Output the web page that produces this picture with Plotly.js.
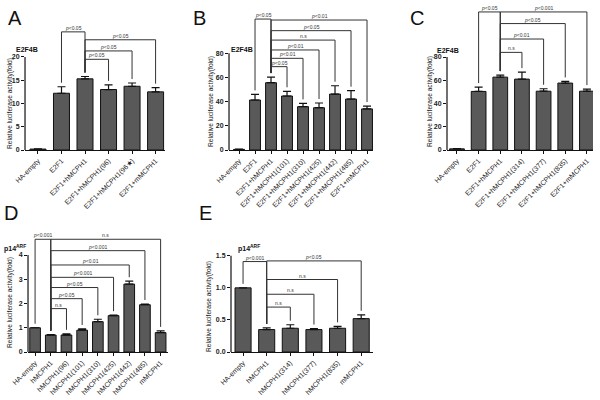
<!DOCTYPE html>
<html><head><meta charset="utf-8">
<script src="https://cdn.plot.ly/plotly-3.0.1.min.js"></script>
<style>html,body{margin:0;padding:0;background:#fff}#chart{width:600px;height:400px}</style>
</head><body><div id="chart"></div>
<script>
// ---------- Data ----------
const catsA = ['HA-empty','E2F1','E2F1+hMCPH1','E2F1+hMCPH1(96)','E2F1+hMCPH1(96★)','E2F1+mMCPH1'];
const valsA = [0.2, 12.2, 15.3, 13.0, 13.7, 12.5];
const errA  = [0.05, 1.4, 0.5, 1.0, 0.7, 0.9];
const brA = [[1,2,25.4,'p<0.05'],[2,5,23.7,'p<0.05'],[2,4,21.3,'p<0.05'],[2,3,19.5,'p<0.05']];

const catsB = ['HA-empty','E2F1','E2F1+hMCPH1','E2F1+hMCPH1(101)','E2F1+hMCPH1(310)','E2F1+hMCPH1(425)','E2F1+hMCPH1(442)','E2F1+hMCPH1(485)','E2F1+mMCPH1'];
const valsB = [0.5, 41.4, 55.7, 44.7, 35.9, 35.0, 46.3, 42.2, 34.0];
const errB  = [0.2, 4.6, 4.7, 3.9, 2.7, 3.9, 6.9, 6.9, 2.4];
const brB = [[1,2,108.4,'p<0.05'],[2,8,107.6,'p<0.01'],[2,7,98.8,'p<0.05'],[2,6,91,'n.s'],[2,5,82.8,'p<0.01'],[2,4,75.9,'p<0.01'],[2,3,69,'p<0.05']];

const catsC = ['HA-empty','E2F1','E2F1+hMCPH1','E2F1+hMCPH1(314)','E2F1+hMCPH1(377)','E2F1+hMCPH1(835)','E2F1+mMCPH1'];
const valsC = [1.0, 50.4, 62.7, 61.0, 50.6, 57.6, 50.6];
const errC  = [0.2, 3.7, 1.8, 6.0, 2.1, 1.4, 1.8];
const brC = [[1,2,118.8,'p<0.05'],[2,6,118.8,'p<0.001'],[2,5,108.8,'p<0.05'],[2,4,95.5,'p<0.01'],[2,3,84,'n.s']];

const catsD = ['HA-empty','hMCPH1','hMCPH1(96)','hMCPH1(101)','hMCPH1(310)','hMCPH1(425)','hMCPH1(442)','hMCPH1(485)','mMCPH1'];
const valsD = [1.0, 0.70, 0.70, 0.90, 1.25, 1.50, 2.80, 1.95, 0.80];
const errD  = [0.0, 0.02, 0.05, 0.05, 0.10, 0.02, 0.12, 0.03, 0.07];
const brD = [[0,1,4.65,'p<0.001'],[1,8,4.65,'n.s'],[1,7,4.18,'p<0.001'],[1,6,3.59,'p<0.01'],[1,5,3.08,'p<0.001'],[1,4,2.66,'p<0.05'],[1,3,2.2,'p<0.05'],[1,2,1.79,'n.s']];

const catsE = ['HA-empty','hMCPH1','hMCPH1(314)','hMCPH1(377)','hMCPH1(835)','mMCPH1'];
const valsE = [1.0, 0.35, 0.37, 0.35, 0.37, 0.52];
const errE  = [0.0, 0.025, 0.055, 0.015, 0.03, 0.06];
const brE = [[0,1,1.41,'p<0.001'],[1,5,1.42,'p<0.05'],[1,4,1.13,'n.s'],[1,3,0.9,'n.s'],[1,2,0.7,'n.s']];

const yTitle = 'Relative luciferase activity(fold)';

// ---------- Layout config ----------
const FONT = 'Liberation Sans, Arial, sans-serif';
const W = 600, H = 400;
const panels = [
  {id:'', cats:catsA, vals:valsA, err:errA, br:brA, dx:[0.0417,0.275], dy:[0.625,0.925], xr:[-0.55,5.4], yr:[0,25.8], tv:[0,5,10,15,20], tt:['0','5','10','15','20'], top:20, letter:'A', lx:0.025, ly:0.955, lab:'E2F4B', labx:0.024, laby:0.877, tx:10, ty:104},
  {id:'2', cats:catsB, vals:valsB, err:errB, br:brB, dx:[0.3817,0.6217], dy:[0.625,0.975], xr:[-0.625,8.375], yr:[0,115.9], tv:[0,20,40,60,80], tt:['0','20','40','60','80'], top:80, letter:'B', lx:0.333, ly:0.955, lab:'E2F4B', labx:0.381, laby:0.877, tx:211, ty:102},
  {id:'3', cats:catsC, vals:valsC, err:errC, br:brC, dx:[0.745,0.9883], dy:[0.625,0.9925], xr:[-0.46,6.28], yr:[0,126.5], tv:[0,20,40,60,80], tt:['0','20','40','60','80'], top:80, letter:'C', lx:0.695, ly:0.955, lab:'E2F4B', labx:0.725, laby:0.875, tx:430, ty:102},
  {id:'4', cats:catsD, vals:valsD, err:errD, br:brD, dx:[0.0467,0.28], dy:[0.12,0.42], xr:[-0.45,8.47], yr:[0,4.95], tv:[0,1,2,3,4], tt:['0','1','2','3','4'], top:4, letter:'D', lx:0.018, ly:0.468, lab:'p14<sup>ARF</sup>', labx:0.003, laby:0.38, tx:10, ty:303},
  {id:'5', cats:catsE, vals:valsE, err:errE, br:brE, dx:[0.385,0.6217], dy:[0.12,0.375], xr:[-0.51,5.5], yr:[0,1.59], tv:[0,0.5,1,1.5], tt:['0.0','0.5','1.0','1.5'], top:1.5, letter:'E', lx:0.343, ly:0.468, lab:'p14<sup>ARF</sup>', labx:0.393, laby:0.38, tx:209, ty:307}
];

const data = [];
const layout = {
  width:W, height:H, margin:{l:0,r:0,t:0,b:0},
  paper_bgcolor:'#fff', plot_bgcolor:'rgba(0,0,0,0)',
  showlegend:false, font:{family:FONT, color:'#222'},
  shapes:[], annotations:[]
};

panels.forEach(p => {
  const xa = 'x'+p.id, ya = 'y'+p.id;
  const idx = p.cats.map((c,i)=>i);
  data.push({
    type:'bar', x:idx, y:p.vals, xaxis:xa, yaxis:ya, width:0.68,
    marker:{color:'#595959', line:{color:'#111', width:1}},
    error_y:{type:'data', symmetric:false, array:p.err, arrayminus:p.err.map(()=>0), color:'#111', thickness:1.2, width:4},
    hoverinfo:'skip'
  });
  layout['xaxis'+p.id] = {
    domain:p.dx, anchor:ya, range:p.xr, tickmode:'array', tickvals:idx, ticktext:p.cats,
    tickangle:-45, tickfont:{size:7, family:FONT, color:'#222'}, showline:true, linecolor:'#111', linewidth:1.2,
    ticks:'outside', ticklen:3, tickcolor:'#111', showgrid:false, zeroline:false, fixedrange:true
  };
  layout['yaxis'+p.id] = {
    domain:p.dy, anchor:xa, range:p.yr, tickmode:'array', tickvals:p.tv, ticktext:p.tt,
    tickfont:{size:7, family:FONT, color:'#222', weight:'bold'}, showline:false,
    ticks:'outside', ticklen:3, tickcolor:'#111', showgrid:false, zeroline:false, fixedrange:true
  };
  // y axis line only up to the top tick
  layout.shapes.push({type:'line', xref:xa+' domain', yref:ya, x0:0, x1:0, y0:0, y1:p.top, line:{color:'#111', width:1.2}});
  // significance brackets
  const pxPerUnit = (p.dy[1]-p.dy[0])*H/(p.yr[1]-p.yr[0]);
  const gap = 4/pxPerUnit;
  const legBottom = k => p.vals[k] + p.err[k] + gap;
  p.br.forEach(b => {
    const [i,j,h,txt] = b;
    const ln = {color:'#333', width:1};
    layout.shapes.push({type:'line', xref:xa, yref:ya, x0:i, x1:i, y0:legBottom(i), y1:h, line:ln});
    layout.shapes.push({type:'line', xref:xa, yref:ya, x0:i, x1:j, y0:h, y1:h, line:ln});
    layout.shapes.push({type:'line', xref:xa, yref:ya, x0:j, x1:j, y0:legBottom(j), y1:h, line:ln});
    const t = txt.startsWith('p') ? '<i>p</i>' + txt.slice(1).replace('<','&lt;') : txt;
    layout.annotations.push({xref:xa, yref:ya, x:(i+j)/2, y:h, text:t, showarrow:false, yanchor:'bottom', xanchor:'center', yshift:-1, font:{size:5, family:FONT, color:'#333'}});
  });
  // y axis title (centred on the drawn part of the axis)
  layout.annotations.push({xref:'paper', yref:'paper', x:p.tx/W, y:1-p.ty/H, text:yTitle, textangle:-90, showarrow:false, xanchor:'center', yanchor:'middle', font:{size:6.6, family:FONT, color:'#222'}});
  layout.annotations.push({xref:'paper', yref:'paper', x:p.lx, y:p.ly, text:p.letter, showarrow:false, xanchor:'center', yanchor:'middle', font:{size:20, family:FONT, color:'#111'}});
  layout.annotations.push({xref:'paper', yref:'paper', x:p.labx, y:p.laby, text:'<b>'+p.lab+'</b>', showarrow:false, xanchor:'left', yanchor:'middle', font:{size:7, family:FONT, color:'#111'}});
});

Plotly.newPlot('chart', data, layout, {displayModeBar:false, staticPlot:true});
</script></body></html>
